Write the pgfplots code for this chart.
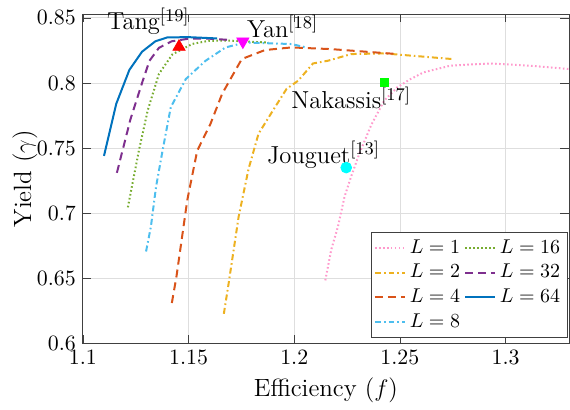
\documentclass[border=0pt]{standalone}
\usepackage{pgfplots}
\pgfplotsset{compat=1.18}

\definecolor{cL1}{rgb}{1,0.6,0.8}
\definecolor{cL2}{rgb}{0.929,0.694,0.125}
\definecolor{cL4}{rgb}{0.85,0.325,0.098}
\definecolor{cL8}{rgb}{0.301,0.745,0.933}
\definecolor{cL16}{rgb}{0.466,0.674,0.188}
\definecolor{cL32}{rgb}{0.494,0.184,0.556}
\definecolor{cL64}{rgb}{0,0.447,0.741}
\definecolor{mRed}{rgb}{1,0,0}
\definecolor{mMag}{rgb}{1,0,1}
\definecolor{mGreen}{rgb}{0,1,0}
\definecolor{mCyan}{rgb}{0,1,1}

\tikzset{
  mdash/.style={dash pattern=on 4pt off 2.5pt},
  mdot/.style={dash pattern=on 0.8pt off 1.2pt},
  mdashdot/.style={dash pattern=on 3pt off 1.5pt on 0.8pt off 1.5pt},
}

\begin{document}
\begin{tikzpicture}
\begin{axis}[
    scale only axis,
    width=243.5pt,
    height=165pt,
    xmin=1.1, xmax=1.33,
    ymin=0.6, ymax=0.853,
    xtick={1.1,1.15,1.2,1.25,1.3},
    ytick={0.6,0.65,0.7,0.75,0.8,0.85},
    xlabel={Efficiency ($f$)},
    ylabel={Yield ($\gamma$)},
    label style={font=\fontsize{12.5}{14}\selectfont},
    ylabel style={at={(axis description cs:0,0.5)}, anchor=center, yshift=29pt},
    tick label style={font=\fontsize{10.5}{12}\selectfont},
    grid=major,
    major grid style={line width=0.4pt, draw=black!13},
    axis line style={draw=black!75},
    tick style={draw=black!75},
    clip=false,
    legend columns=2,
    legend style={at={(0.997,0.018)}, anchor=south east,
        font=\fontsize{10}{12}\selectfont, draw=black!75, fill=white,
        inner sep=1.5pt, row sep=0pt,
        /tikz/every even column/.append style={column sep=0pt}},
    legend cell align=left,
    legend image code/.code={\draw[#1] (0pt,0pt) -- (15pt,0pt);},
]
\addplot[cL1, line width=1pt, mdot] coordinates {
    (1.2147,0.6484) (1.2175,0.6719) (1.2207,0.6897) (1.2238,0.7126)
    (1.2269,0.7280) (1.2308,0.7457) (1.2365,0.7680) (1.2426,0.7865)
    (1.2488,0.7967) (1.2550,0.8030) (1.2613,0.8082) (1.2739,0.8133)
    (1.2926,0.8150) (1.3114,0.8133) (1.3300,0.8107)
};
\addlegendentry{$L=1$}
\addplot[cL16, line width=1pt, mdot] coordinates {
    (1.1213,0.7045) (1.1265,0.7480) (1.1307,0.7790) (1.1360,0.8070)
    (1.1424,0.8220) (1.1518,0.8300) (1.1596,0.8324) (1.1700,0.8325)
    (1.1878,0.8310)
};
\addlegendentry{$L=16$}
\addplot[cL2, line width=1pt, mdashdot] coordinates {
    (1.1667,0.6227) (1.1690,0.6464) (1.1737,0.6973) (1.1784,0.7340)
    (1.1831,0.7610) (1.1909,0.7814) (1.1964,0.7955) (1.2019,0.8018)
    (1.2089,0.8150) (1.2160,0.8171) (1.2269,0.8222) (1.2426,0.8227)
    (1.2746,0.8184)
};
\addlegendentry{$L=2$}
\addplot[cL32, line width=1pt, mdash] coordinates {
    (1.1161,0.7310) (1.1182,0.7445) (1.1225,0.7720) (1.1280,0.8000)
    (1.1315,0.8170) (1.1360,0.8270) (1.1420,0.8320) (1.1500,0.8340)
    (1.1600,0.8340) (1.1700,0.8330)
};
\addlegendentry{$L=32$}
\addplot[cL4, line width=1pt, mdash] coordinates {
    (1.1421,0.6310) (1.1443,0.6515) (1.1494,0.7100) (1.1541,0.7480)
    (1.1604,0.7687) (1.1659,0.7917) (1.1752,0.8184) (1.1862,0.8253)
    (1.1987,0.8273) (1.2175,0.8260) (1.2488,0.8222)
};
\addlegendentry{$L=4$}
\addplot[cL64, line width=1pt] coordinates {
    (1.1100,0.7440) (1.1158,0.7840) (1.1220,0.8100) (1.1280,0.8240)
    (1.1343,0.8320) (1.1400,0.8350) (1.1500,0.8352) (1.1635,0.8342)
};
\addlegendentry{$L=64$}
\addplot[cL8, line width=1pt, mdashdot] coordinates {
    (1.1299,0.6706) (1.1322,0.6897) (1.1346,0.7200) (1.1377,0.7480)
    (1.1416,0.7814) (1.1487,0.8030) (1.1580,0.8170) (1.1675,0.8273)
    (1.1769,0.8311) (1.1987,0.8299) (1.2056,0.8273)
};
\addlegendentry{$L=8$}

\addplot[only marks, mark=triangle*, mark size=3.5pt, color=mRed, forget plot]
    coordinates {(1.1455,0.8278)};
\addplot[only marks, mark=triangle*, mark size=3.5pt, color=mMag,
    mark options={rotate=180}, forget plot]
    coordinates {(1.1757,0.8319)};
\addplot[only marks, mark=square*, mark size=2pt, color=mGreen, forget plot]
    coordinates {(1.2427,0.8008)};
\addplot[only marks, mark=*, mark size=2.7pt, color=mCyan, forget plot]
    coordinates {(1.2246,0.7350)};

\begin{scope}[every node/.style={font=\fontsize{12.3}{14}\selectfont, inner sep=0pt, anchor=base west}]
\node at (axis cs:1.1113,0.8407) {Tang$^{[19]}$};
\node at (axis cs:1.1775,0.8349) {Yan$^{[18]}$};
\node at (axis cs:1.1985,0.7802) {Nakassis$^{[17]}$};
\node at (axis cs:1.1870,0.7381) {Jouguet$^{[13]}$};
\end{scope}
\end{axis}
\path ([yshift=7pt]current axis.north);
\path ([xshift=-41.5pt]current axis.west);
\end{tikzpicture}
\end{document}
